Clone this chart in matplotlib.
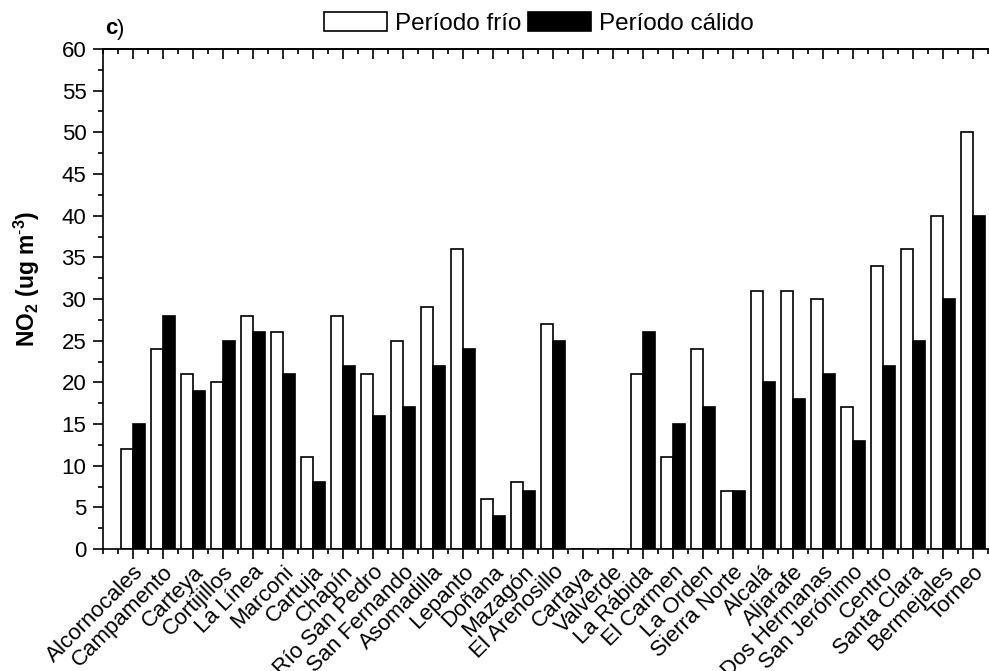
import matplotlib
matplotlib.use("Agg")
import matplotlib.pyplot as plt
from matplotlib.patches import Patch
from matplotlib.ticker import MultipleLocator
from matplotlib.transforms import ScaledTranslation
import numpy as np

plt.rcParams['font.family'] = ['Liberation Sans', 'DejaVu Sans']
plt.rcParams['mathtext.fontset'] = 'custom'
plt.rcParams['mathtext.rm'] = 'Liberation Sans'
plt.rcParams['mathtext.bf'] = 'Liberation Sans:bold'

stations = ["Alcornocales", "Campamento", "Carteya", "Cortijillos", "La Línea",
            "Marconi", "Cartuja", "Chapín", "Río San Pedro", "San Fernando",
            "Asomadilla", "Lepanto", "Doñana", "Mazagón", "El Arenosillo",
            "Cartaya", "Valverde", "La Rábida", "El Carmen", "La Orden",
            "Sierra Norte", "Alcalá", "Aljarafe", "Dos Hermanas", "San Jerónimo",
            "Centro", "Santa Clara", "Bermejales", "Torneo"]

# NO2 means, cold and warm period
frio = [12, 24, 21, 20, 28, 26, 11, 28, 21, 25, 29, 36, 6, 8, 27,
        0, 0, 21, 11, 24, 7, 31, 31, 30, 17, 34, 36, 40, 50]
calido = [15, 28, 19, 25, 26, 21, 8, 22, 16, 17, 22, 24, 4, 7, 25,
          0, 0, 26, 15, 17, 7, 20, 18, 21, 13, 22, 25, 30, 40]

fig = plt.figure(figsize=(9.89, 6.71), dpi=100)
ax = fig.add_axes([103 / 989, 122 / 671, 900 / 989, 500 / 671])

x = np.arange(1, len(stations) + 1)
w = 0.4
ax.bar(x - w / 2, frio, w, color='white', edgecolor='black', linewidth=1.2)
ax.bar(x + w / 2, calido, w, color='black', edgecolor='black', linewidth=1.2)

ax.set_xlim(0, 30)
ax.set_ylim(0, 60)
ax.set_xticks(x)
ax.set_xticklabels(stations, rotation=45, ha='right', va='top',
                   rotation_mode='anchor', fontsize=16)
# nudge the rotated names down-left a little
shift = ScaledTranslation(-4 / 100, -3 / 100, fig.dpi_scale_trans)
for lab in ax.get_xticklabels():
    lab.set_transform(lab.get_transform() + shift)
ax.xaxis.set_minor_locator(MultipleLocator(0.5))
ax.yaxis.set_major_locator(MultipleLocator(5))
ax.yaxis.set_minor_locator(MultipleLocator(2.5))

for s in ax.spines.values():
    s.set_linewidth(1.2)

ax.tick_params(axis='y', which='major', direction='out', length=7, width=1.2,
               labelsize=16, pad=5, right=False)
ax.tick_params(axis='y', which='minor', direction='out', length=3.5, width=1.2, right=False)
ax.tick_params(axis='x', which='major', direction='out', length=7, width=1.2, pad=2, top=False)
ax.tick_params(axis='x', which='minor', direction='out', length=3.5, width=1.2, top=False)

# inward ticks along the top spine
top = ax.secondary_xaxis('top')
top.set_xticks(x)
top.set_xticklabels([])
top.xaxis.set_minor_locator(MultipleLocator(0.5))
top.tick_params(which='major', direction='in', length=7, width=1.2)
top.tick_params(which='minor', direction='in', length=3.5, width=1.2)
top.spines['top'].set_linewidth(1.2)

ax.set_ylabel(r"NO$_\mathbf{2}$ (ug m$^{\text{-}\mathbf{3}}$)", fontsize=16.5,
              fontweight='bold')
ax.yaxis.set_label_coords(-0.068, 0.54)

handles = [Patch(facecolor='white', edgecolor='black', linewidth=1.2, label='Período frío'),
           Patch(facecolor='black', edgecolor='black', linewidth=1.2, label='Período cálido')]
fig.legend(handles=handles, loc='center', bbox_to_anchor=(0.545, 0.965), ncol=2,
           frameon=False, fontsize=17.5, handlelength=2.6, handleheight=0.86,
           handletextpad=0.33, columnspacing=0.25, borderpad=0)

fig.text(105 / 989, 1 - 29 / 671, 'c', fontsize=16, fontweight='bold', va='center')
fig.text(117 / 989, 1 - 29 / 671, ')', fontsize=16, va='center')

fig.savefig('out.png', dpi=100)
